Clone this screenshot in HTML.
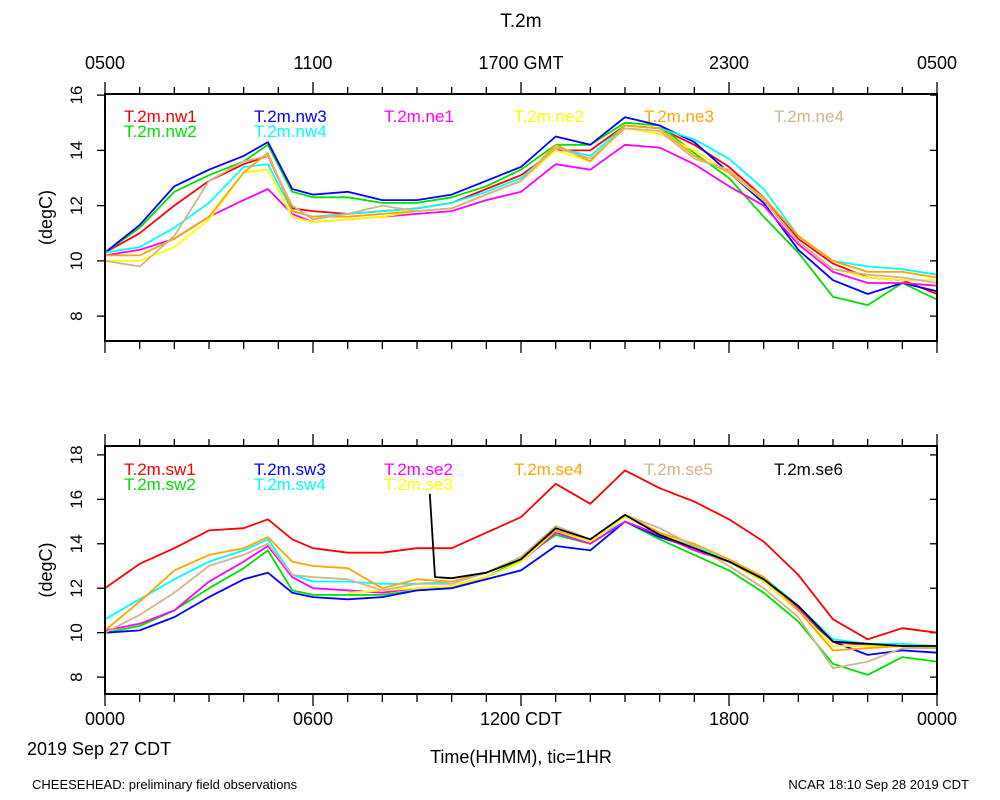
<!DOCTYPE html>
<html><head><meta charset="utf-8"><style>
body{margin:0;background:#fff}
svg{display:block;font-family:"Liberation Sans",sans-serif}
</style></head><body>
<svg id="chart" width="1000" height="800" viewBox="0 0 1000 800" xmlns="http://www.w3.org/2000/svg">
<text x="521" y="27" font-size="19" text-anchor="middle">T.2m</text>
<g id="top"></g>
<g id="bot"></g>
<text x="27" y="755" font-size="18">2019 Sep 27 CDT</text>
<text x="521" y="763" font-size="18" text-anchor="middle">Time(HHMM), tic=1HR</text>
<text x="32" y="789" font-size="13">CHEESEHEAD: preliminary field observations</text>
<text x="969" y="789" font-size="13" text-anchor="end">NCAR 18:10 Sep 28 2019 CDT</text>
</svg>
<script>
const T = [0,1,2,3,4,4.7,5.4,6,7,8,9,10,11,12,13,14,15,16,17,18,19,20,21,22,23,24];
const topTicks = [16,14,12,10,8];
const botTicks = [18,16,14,12,10,8];
const topXLabels = ["0500","1100","1700 GMT","2300","0500"];
const botXLabels = ["0000","0600","1200 CDT","1800","0000"];
const nw1 = [10.3,11.0,12.0,12.9,13.5,13.8,11.9,11.8,11.7,11.8,11.9,12.1,12.6,13.1,14.0,14.0,14.9,14.8,14.2,13.4,12.3,10.8,9.9,9.4,9.3,8.8];
const nw2 = [10.3,11.2,12.5,13.1,13.6,14.2,12.5,12.3,12.3,12.1,12.1,12.3,12.7,13.3,14.2,14.2,15.0,14.9,13.9,13.0,11.6,10.3,8.7,8.4,9.2,8.6];
const nw3 = [10.3,11.3,12.7,13.3,13.8,14.3,12.6,12.4,12.5,12.2,12.2,12.4,12.9,13.4,14.5,14.2,15.2,14.9,14.3,13.2,12.1,10.4,9.3,8.8,9.2,8.9];
const nw4 = [10.3,10.5,11.2,12.1,13.4,13.5,11.8,11.6,11.7,11.8,11.9,12.1,12.5,13.0,14.1,13.8,14.9,14.8,14.4,13.7,12.6,10.9,10.0,9.8,9.7,9.5];
const ne1 = [10.2,10.4,10.8,11.6,12.2,12.6,11.7,11.4,11.5,11.6,11.7,11.8,12.2,12.5,13.5,13.3,14.2,14.1,13.5,12.7,12.0,10.6,9.6,9.2,9.2,9.1];
const ne2 = [10.0,10.0,10.5,11.5,13.2,13.3,11.6,11.4,11.5,11.6,11.8,11.9,12.4,12.9,14.0,13.6,14.8,14.6,14.0,13.2,12.2,10.7,9.7,9.4,9.3,9.3];
const ne3 = [10.2,10.2,10.8,11.6,13.2,13.9,11.8,11.6,11.6,11.7,11.8,11.9,12.4,12.9,14.2,13.6,14.9,14.8,13.8,13.2,12.3,10.9,10.0,9.6,9.6,9.4];
const ne4 = [10.0,9.8,10.9,12.9,13.6,13.8,12.0,11.5,11.7,12.0,11.8,11.9,12.4,12.9,14.1,13.7,14.8,14.7,13.7,13.3,12.2,10.7,9.7,9.5,9.4,9.2];
const sw1 = [12.0,13.1,13.8,14.6,14.7,15.1,14.2,13.8,13.6,13.6,13.8,13.8,14.5,15.2,16.7,15.8,17.3,16.5,15.9,15.1,14.1,12.6,10.6,9.7,10.2,10.0];
const sw2 = [10.0,10.3,11.0,12.0,12.9,13.7,11.9,11.7,11.7,11.7,11.9,12.0,12.5,13.3,14.4,14.0,15.0,14.2,13.5,12.8,11.8,10.5,8.6,8.1,8.9,8.7];
const sw3 = [10.0,10.1,10.7,11.6,12.4,12.7,11.8,11.6,11.5,11.6,11.9,12.0,12.4,12.8,13.9,13.7,15.0,14.3,13.8,13.2,12.3,11.0,9.6,9.0,9.2,9.1];
const sw4 = [10.6,11.5,12.4,13.2,13.7,14.2,12.6,12.3,12.3,12.2,12.2,12.3,12.7,13.4,14.5,14.2,15.0,14.4,13.9,13.2,12.5,11.2,9.7,9.5,9.5,9.4];
const se2 = [10.1,10.4,11.0,12.3,13.2,13.9,12.5,12.0,11.9,11.8,12.0,12.1,12.5,13.2,14.5,14.0,15.0,14.4,13.7,13.2,12.4,11.1,9.6,9.4,9.4,9.3];
const se3 = [null,null,null,null,null,null,null,null,11.8,11.9,12.0,12.1,12.5,13.2,14.6,14.1,15.2,14.5,13.8,13.2,12.3,11.0,9.4,9.4,9.4,9.3];
const se4 = [10.1,11.4,12.8,13.5,13.8,14.3,13.2,13.0,12.9,12.0,12.4,12.3,12.7,13.4,14.6,14.2,15.3,14.5,14.0,13.3,12.5,11.0,9.2,9.3,9.4,9.3];
const se5 = [10.0,10.8,11.8,13.0,13.5,14.0,12.6,12.5,12.4,11.9,12.2,12.2,12.7,13.4,14.8,14.2,15.3,14.7,13.9,13.0,12.0,10.7,8.4,8.7,9.3,9.3];
const se6T = [9.37,9.52,10,11,12,13,14,15,16,17,18,19,20,21,22,23,24];
const se6 = [16.25,12.5,12.45,12.7,13.3,14.7,14.2,15.3,14.4,13.8,13.2,12.4,11.2,9.6,9.5,9.4,9.4];

const NS='http://www.w3.org/2000/svg';
const X0=105,X1=937;
function xs(h){return X0+(X1-X0)*h/24;}
function mk(tag,attrs,parent){const e=document.createElementNS(NS,tag);for(const k in attrs)e.setAttribute(k,attrs[k]);parent.appendChild(e);return e;}

function panel(g,yTop,yBot,vMin,vMax,ticks,xLabels,labelY,series,legend,topLabels){
  const ys=v=>yBot-(v-vMin)*(yBot-yTop)/(vMax-vMin);
  // ticks
  for(let h=0;h<=24;h++){
    const x=xs(h),maj=h%6===0;
    const t1=mk('line',{x1:x,x2:x,y1:yTop,y2:yTop-(maj?12:7),stroke:'#000','stroke-width':1.3},g);
    
    
    const t2=mk('line',{x1:x,x2:x,y1:yBot,y2:yBot+(maj?12:8),stroke:'#000','stroke-width':1.3},g);
    
    
  }
  ticks.forEach(v=>{
    const y=ys(v);
    const tl=mk('line',{x1:X0-8,x2:X0,y1:y,y2:y,stroke:'#000','stroke-width':1.3},g);
    
    
    const tr=mk('line',{x1:X1-7,x2:X1,y1:y,y2:y,stroke:'#000','stroke-width':1.3},g);
    
    
    const tx=mk('text',{x:0,y:0,'font-size':17,'text-anchor':'middle',transform:`translate(82,${y}) rotate(-90)`},g);
    tx.textContent=v;
    
    
  });
  const yt=mk('text',{x:0,y:0,'font-size':18,'text-anchor':'middle',transform:`translate(52,${(yTop+yBot)/2}) rotate(-90)`},g);
  yt.textContent='(degC)';
  
  
  xLabels.forEach((s,i)=>{
    const tx=mk('text',{x:xs(i*6),y:labelY,'font-size':18,'text-anchor':'middle'},g);
    tx.textContent=s;
    
    
  });
  series.forEach(s=>{
    let d='',pen=false;
    const tt=s.t||T;
    s.v.forEach((v,i)=>{ if(v==null){pen=false;return;} d+=(pen?'L':'M')+xs(tt[i]).toFixed(1)+','+ys(v).toFixed(1); pen=true;});
    const p=mk('path',{d:d,fill:'none',stroke:s.c,'stroke-width':1.8,'stroke-linejoin':'round'},g);
    
    
  });
  legend.forEach(l=>{
    const tx=mk('text',{x:l.x,y:l.y,'font-size':17,fill:l.c},g);
    tx.textContent=l.n;
    
    
  });
  const fr=mk('rect',{x:X0,y:yTop,width:X1-X0,height:yBot-yTop,fill:'none',stroke:'#000','stroke-width':2},g);
  
  
}
const topSeries=[
 {n:'nw1',c:'#ff0000',v:nw1},{n:'nw2',c:'#00e000',v:nw2},{n:'nw3',c:'#0000ff',v:nw3},{n:'nw4',c:'#00ffff',v:nw4},
 {n:'ne1',c:'#ff00ff',v:ne1},{n:'ne2',c:'#ffff00',v:ne2},{n:'ne3',c:'#ffa500',v:ne3},{n:'ne4',c:'#d2b48c',v:ne4}];
const botSeries=[
 {n:'sw1',c:'#ff0000',v:sw1},{n:'sw2',c:'#00e000',v:sw2},{n:'sw3',c:'#0000ff',v:sw3},{n:'sw4',c:'#00ffff',v:sw4},
 {n:'se2',c:'#ff00ff',v:se2},{n:'se3',c:'#ffff00',v:se3},{n:'se4',c:'#ffa500',v:se4},{n:'se5',c:'#d2b48c',v:se5},{n:'se6',c:'#000000',v:se6,t:se6T}];
const topLeg=[
 {n:'T.2m.nw1',c:'#ff0000',x:124,y:122},{n:'T.2m.nw2',c:'#00e000',x:124,y:137},
 {n:'T.2m.nw3',c:'#0000ff',x:254,y:122},{n:'T.2m.nw4',c:'#00ffff',x:254,y:137},
 {n:'T.2m.ne1',c:'#ff00ff',x:384,y:122},{n:'T.2m.ne2',c:'#ffff00',x:514,y:122},
 {n:'T.2m.ne3',c:'#ffa500',x:644,y:122},{n:'T.2m.ne4',c:'#d2b48c',x:774,y:122}];
const botLeg=[
 {n:'T.2m.sw1',c:'#ff0000',x:124,y:475},{n:'T.2m.sw2',c:'#00e000',x:124,y:490},
 {n:'T.2m.sw3',c:'#0000ff',x:254,y:475},{n:'T.2m.sw4',c:'#00ffff',x:254,y:490},
 {n:'T.2m.se2',c:'#ff00ff',x:384,y:475},{n:'T.2m.se3',c:'#ffff00',x:384,y:490},
 {n:'T.2m.se4',c:'#ffa500',x:514,y:475},{n:'T.2m.se5',c:'#d2b48c',x:644,y:475},
 {n:'T.2m.se6',c:'#000000',x:774,y:475}];
panel(document.getElementById('top'),94,341,7.1,16.04,topTicks,topXLabels,69,topSeries,topLeg);
panel(document.getElementById('bot'),446,694,7.24,18.4,botTicks,botXLabels,725,botSeries,botLeg);
</script>
</body></html>
